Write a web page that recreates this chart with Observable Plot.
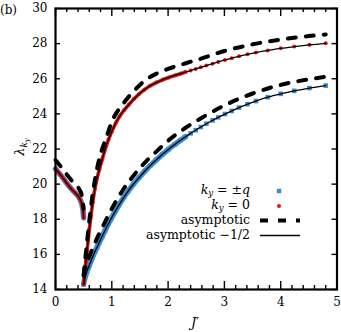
<!DOCTYPE html>
<html><head><meta charset="utf-8">
<script src="https://cdn.jsdelivr.net/npm/d3@7"></script>
<script src="https://cdn.jsdelivr.net/npm/@observablehq/plot@0.6"></script>
<style>body{margin:0;background:#fff} #chart{width:341px;height:332px} svg text{font-family:"DejaVu Serif",serif !important;}</style>
</head><body><div id="chart"></div>
<script>
// left branch (shared by k_y = ±q and k_y = 0)
const leftX = [0, 0.05, 0.1, 0.15, 0.2, 0.25, 0.3, 0.35, 0.4, 0.44, 0.47, 0.49, 0.5];
const leftY = [20.87, 20.68, 20.48, 20.27, 20.05, 19.85, 19.66, 19.5, 19.33, 19.12, 18.85, 18.5, 18.08];
// rising branch J' grid
const risingX = [0.5,0.52,0.54,0.56,0.58,0.6,0.63,0.66,0.7,0.74,0.78,0.83,0.88,0.94,1.0,1.07,1.14,1.22,1.3,1.39,1.48,1.58,1.68,1.79,1.9,2.01,2.12,2.22,2.31,2.4,2.49,2.58,2.68,2.79,2.89,3.01,3.13,3.26,3.41,3.56,3.77,4.0,4.24,4.51,4.8];
// k_y = 0
const redY = [14.3,15.0,15.6,16.2,16.8,17.4,18.2,18.95,19.75,20.35,20.85,21.42,21.97,22.52,23.0,23.48,23.87,24.22,24.52,24.84,25.12,25.38,25.6,25.78,25.94,26.07,26.19,26.29,26.38,26.47,26.56,26.65,26.75,26.86,26.96,27.07,27.17,27.28,27.39,27.49,27.61,27.73,27.83,27.93,28.02];
// k_y = ±q
const blueY = [14.3,14.62,14.85,15.05,15.22,15.38,15.62,15.85,16.15,16.42,16.7,17.03,17.36,17.74,18.1,18.5,18.88,19.28,19.65,20.02,20.36,20.72,21.05,21.38,21.7,21.99,22.26,22.5,22.7,22.89,23.07,23.25,23.44,23.63,23.8,23.99,24.17,24.36,24.55,24.73,24.95,25.14,25.31,25.47,25.61];
// asymptotic (dashed)
const leftDashX = [0, 0.1, 0.2, 0.3, 0.4, 0.45, 0.48, 0.5];
const leftDashY = [21.37, 20.98, 20.55, 20.16, 19.83, 19.55, 19.2, 18.6];
const dashX = [0.5,0.52,0.55,0.6,0.65,0.7,0.8,0.9,1.0,1.2,1.4,1.6,1.8,2.0,2.3,2.6,3.0,3.5,4.0,4.5,4.8];
const redDashY = [14.8,15.5,16.4,17.9,19.2,20.25,21.7,22.63,23.55,24.57,25.33,25.93,26.3,26.56,26.87,27.16,27.58,27.96,28.23,28.43,28.52];
const blueDashY = [14.8,15.1,15.43,15.88,16.27,16.65,17.33,17.98,18.6,19.68,20.54,21.27,21.88,22.47,23.18,23.78,24.48,25.16,25.65,25.97,26.11];
// ticks
const xMajor = [0, 1, 2, 3, 4, 5];
const xMinor = [0.2,0.4,0.6,0.8,1.2,1.4,1.6,1.8,2.2,2.4,2.6,2.8,3.2,3.4,3.6,3.8,4.2,4.4,4.6,4.8];
const yMajor = [14, 16, 18, 20, 22, 24, 26, 28, 30];

const BLUE = "#3b8bd0", RED = "#ee1111";
const FF = "DejaVu Serif, serif";
const pts = (xs, ys) => xs.map((x, i) => ({x, y: ys[i]}));
const left = pts(leftX, leftY);
const red = pts(risingX, redY);
const blue = pts(risingX, blueY);
const redDense = red.filter(d => d.x <= 2.31);
const blueDense = blue.filter(d => d.x <= 2.31);
const leftDash = pts(leftDashX, leftDashY);
const redDash = pts(dashX, redDashY);
const blueDash = pts(dashX, blueDashY);

const W = 341, H = 332, mL = 55, mR = 4.5, mT = 8, mB = 43;
const pw = W - mL - mR, ph = H - mT - mB;

const chart = Plot.plot({
  width: W, height: H,
  marginLeft: mL, marginRight: mR, marginTop: mT, marginBottom: mB,
  x: {domain: [0, 5]},
  y: {domain: [14, 30]},
  style: {fontFamily: FF, fontSize: "12px", background: "white", color: "black"},
  marks: [
    Plot.line(left, {x: "x", y: "y", stroke: BLUE, strokeWidth: 5.5}),
    Plot.line(blueDense, {x: "x", y: "y", stroke: BLUE, strokeWidth: 5.5}),
    Plot.dot(blue, {x: "x", y: "y", symbol: "square", r: 2.6, fill: BLUE}),
    Plot.line(left, {x: "x", y: "y", stroke: RED, strokeWidth: 3.6}),
    Plot.line(redDense, {x: "x", y: "y", stroke: RED, strokeWidth: 3.6}),
    Plot.dot(red, {x: "x", y: "y", r: 2, fill: RED}),
    Plot.line(left, {x: "x", y: "y", stroke: "black", strokeWidth: 1.3}),
    Plot.line(red, {x: "x", y: "y", stroke: "black", strokeWidth: 1.3, curve: "monotone-x"}),
    Plot.line(blue, {x: "x", y: "y", stroke: "black", strokeWidth: 1.3, curve: "monotone-x"}),
    Plot.line(leftDash, {x: "x", y: "y", stroke: "black", strokeWidth: 4, strokeDasharray: "8,10"}),
    Plot.line(redDash, {x: "x", y: "y", stroke: "black", strokeWidth: 4, strokeDasharray: "8,10", curve: "monotone-x"}),
    Plot.line(blueDash, {x: "x", y: "y", stroke: "black", strokeWidth: 4, strokeDasharray: "8,10", curve: "monotone-x"}),
    Plot.tickX(xMajor, {x: d => d, insetTop: ph - 8, stroke: "black", strokeWidth: 1.4}),
    Plot.tickX(xMajor, {x: d => d, insetBottom: ph - 8, stroke: "black", strokeWidth: 1.4}),
    Plot.tickX(xMinor, {x: d => d, insetTop: ph - 4, stroke: "black", strokeWidth: 1.4}),
    Plot.tickX(xMinor, {x: d => d, insetBottom: ph - 4, stroke: "black", strokeWidth: 1.4}),
    Plot.tickY(yMajor, {y: d => d, insetRight: pw - 5, stroke: "black", strokeWidth: 1.4}),
    Plot.tickY(yMajor, {y: d => d, insetLeft: pw - 5, stroke: "black", strokeWidth: 1.4}),
    Plot.frame({stroke: "black", strokeWidth: 2.2}),
    Plot.axisX({ticks: xMajor, tickSize: 0, tickPadding: 8, tickFormat: d => String(d), fontSize: 12, label: null}),
    Plot.axisY({ticks: yMajor, tickSize: 0, tickPadding: 8, tickFormat: d => String(d), fontSize: 12, label: null})
  ]
});
document.getElementById("chart").appendChild(chart);

const svg = d3.select(chart);
// panel tag
svg.append("text").attr("x", 0).attr("y", 14).attr("text-anchor", "start")
  .attr("font-family", FF).attr("font-size", 12).text("(b)");
// y label
const yl = svg.append("text").attr("transform", "translate(24,147) rotate(-90)")
  .attr("text-anchor", "middle").attr("font-family", FF).attr("font-size", 13);
yl.append("tspan").attr("font-style", "italic").text("λ");
yl.append("tspan").attr("dy", 3).attr("font-size", 9).attr("font-style", "italic").text("k");
yl.append("tspan").attr("dy", 2).attr("font-size", 7).attr("font-style", "italic").text("y");
// x label
const xl = svg.append("text").attr("x", 195).attr("y", 327).attr("text-anchor", "middle")
  .attr("font-family", FF).attr("font-size", 13).attr("font-style", "italic");
xl.append("tspan").text("J");
xl.append("tspan").attr("font-style", "normal").text("′");

// legend
const lg = svg.append("g").attr("font-family", FF).attr("font-size", 12.5);
const tx = 250, sx1 = 260, sx2 = 300;
const r1 = lg.append("text").attr("x", tx).attr("y", 194).attr("text-anchor", "end");
r1.append("tspan").attr("font-style", "italic").text("k");
r1.append("tspan").attr("font-style", "italic").attr("font-size", 8.5).attr("dy", 2).text("y");
r1.append("tspan").attr("dy", -2).text(" = ±");
r1.append("tspan").attr("font-style", "italic").text("q");
lg.append("rect").attr("x", 276.8).attr("y", 188.8).attr("width", 4.4).attr("height", 4.4).attr("fill", BLUE);
const r2 = lg.append("text").attr("x", tx).attr("y", 209).attr("text-anchor", "end");
r2.append("tspan").attr("font-style", "italic").text("k");
r2.append("tspan").attr("font-style", "italic").attr("font-size", 8.5).attr("dy", 2).text("y");
r2.append("tspan").attr("dy", -2).text(" = 0");
lg.append("circle").attr("cx", 279).attr("cy", 206).attr("r", 2).attr("fill", RED);
lg.append("text").attr("x", tx).attr("y", 224).attr("text-anchor", "end").text("asymptotic");
lg.append("line").attr("x1", sx1).attr("x2", sx2).attr("y1", 220.5).attr("y2", 220.5)
  .attr("stroke", "black").attr("stroke-width", 4).attr("stroke-dasharray", "8,10");
lg.append("text").attr("x", tx).attr("y", 239).attr("text-anchor", "end").text("asymptotic −1/2");
lg.append("line").attr("x1", sx1).attr("x2", sx2).attr("y1", 235.5).attr("y2", 235.5)
  .attr("stroke", "black").attr("stroke-width", 1.3);
</script></body></html>
